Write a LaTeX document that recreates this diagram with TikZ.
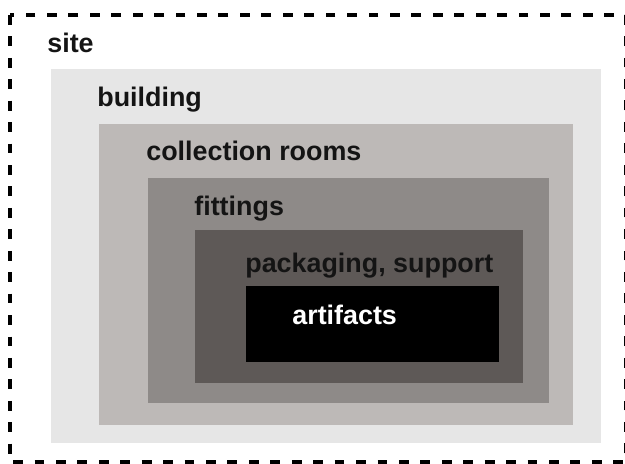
\documentclass[tikz,border=0pt]{standalone}
\usepackage{fontspec}
\setmainfont{Liberation Sans}

\definecolor{buildinggray}{RGB}{230,230,230}
\definecolor{roomsgray}{RGB}{189,185,183}
\definecolor{fittingsgray}{RGB}{142,138,136}
\definecolor{packinggray}{RGB}{94,89,87}
\definecolor{labelblack}{RGB}{20,20,20}

\tikzset{
    layer/.style={anchor=base west, inner sep=0pt, text=labelblack,
        font=\fontsize{15.3}{18}\selectfont\bfseries},
}

\begin{document}
\begin{tikzpicture}[x=0.02cm, y=-0.02cm]
        \useasboundingbox (0,0) rectangle (625,463);
        \clip (0,0) rectangle (625,463);

        \draw[line width=2.2pt, dash pattern=on 5.6pt off 6.6pt] (10,15) rectangle (626,462);
        \node[layer] (site) at (47,52) {site};

        \fill[buildinggray] (51,69) rectangle (601,443);
        \node[layer] (building) at (97,106) {building};

        \fill[roomsgray] (99,124) rectangle (573,425);
        \node[layer] (rooms) at (146,160) {collection rooms};

        \fill[fittingsgray] (148,178) rectangle (549,403);
        \node[layer] (fittings) at (194,215) {fittings};

        \fill[packinggray] (195,230) rectangle (523,383);
        \node[layer] (packaging) at (245,272) {packaging, support};

        \fill[black] (246,286) rectangle (499,362);
        \node[layer, text=white] (artifacts) at (292,324) {artifacts};

    \end{tikzpicture}
\end{document}
